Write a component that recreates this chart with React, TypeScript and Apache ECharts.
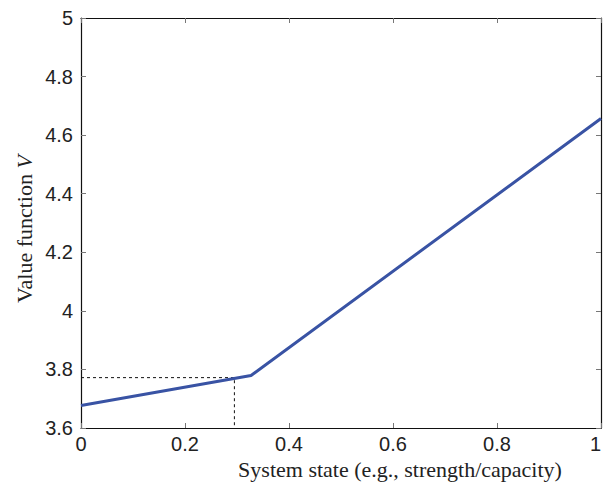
import React, { useEffect, useRef } from "react";
import * as echarts from "echarts";

const curveX = [0, 0.327, 1];
const curveY = [3.677, 3.779, 4.657];
const guideX = [0, 0.295, 0.295];
const guideY = [3.772, 3.772, 3.6];
const xTitle = "System state (e.g., strength/capacity)";
const yTitle = "Value function ";
const yTitleVar = "V";

export default function App() {
  const ref = useRef<HTMLDivElement>(null);
  useEffect(() => {
    if (!ref.current) return;
    const chart = echarts.init(ref.current, undefined, { renderer: "svg" });
    const labelFont = { fontFamily: "Liberation Sans, Arial, sans-serif", fontSize: 20, color: "#222" };
    const baseX = {
      type: "value" as const,
      min: 0,
      max: 1,
      interval: 0.2,
      splitLine: { show: false },
      axisLine: { show: true, onZero: false, lineStyle: { color: "#111", width: 1.2 } },
      axisTick: { show: true, inside: true, length: 5, lineStyle: { color: "#777" } },
    };
    const baseY = {
      type: "value" as const,
      min: 3.6,
      max: 5,
      interval: 0.2,
      splitLine: { show: false },
      axisLine: { show: true, onZero: false, lineStyle: { color: "#111", width: 1.2 } },
      axisTick: { show: true, inside: true, length: 5, lineStyle: { color: "#777" } },
    };
    chart.setOption({
      animation: false,
      backgroundColor: "#fff",
      grid: { left: 81, right: 2, top: 18, bottom: 63, containLabel: false, outerBoundsMode: "none" },
      xAxis: [
        {
          ...baseX,
          position: "bottom",
          axisLabel: {
            ...labelFont,
            margin: 6,
            alignMaxLabel: "right",
            formatter: (v: number) => String(Math.round(v * 10) / 10),
          },
        },
        { ...baseX, position: "top", axisLabel: { show: false } },
      ],
      yAxis: [
        {
          ...baseY,
          position: "left",
          axisLabel: { ...labelFont, margin: 8, formatter: (v: number) => String(Math.round(v * 10) / 10) },
        },
        { ...baseY, position: "right", axisLabel: { show: false } },
      ],
      series: [
        {
          type: "line",
          data: guideX.map((x, i) => [x, guideY[i]]),
          showSymbol: false,
          lineStyle: { color: "#111", width: 1, type: [3, 3] },
          silent: true,
        },
        {
          type: "line",
          data: curveX.map((x, i) => [x, curveY[i]]),
          showSymbol: false,
          lineStyle: { color: "#3953a4", width: 3 },
        },
      ],
      graphic: [
        {
          type: "text",
          x: 400,
          y: 469,
          style: {
            text: xTitle,
            fontFamily: "Liberation Serif, Times New Roman, serif",
            fontSize: 22,
            fill: "#222",
            align: "center",
            verticalAlign: "middle",
          },
        },
        {
          type: "text",
          x: 24,
          y: 229,
          rotation: Math.PI / 2,
          style: {
            text: "{a|" + yTitle + "}{b|" + yTitleVar + "}",
            align: "center",
            verticalAlign: "middle",
            rich: {
              a: { fontFamily: "Liberation Serif, Times New Roman, serif", fontSize: 22, fill: "#222" },
              b: { fontFamily: "Liberation Serif, Times New Roman, serif", fontSize: 22, fontStyle: "italic", fill: "#222" },
            },
          },
        },
      ],
    });
    return () => chart.dispose();
  }, []);
  return <div ref={ref} style={{ width: 603, height: 491, position: "absolute", left: 0, top: 0 }} />;
}
